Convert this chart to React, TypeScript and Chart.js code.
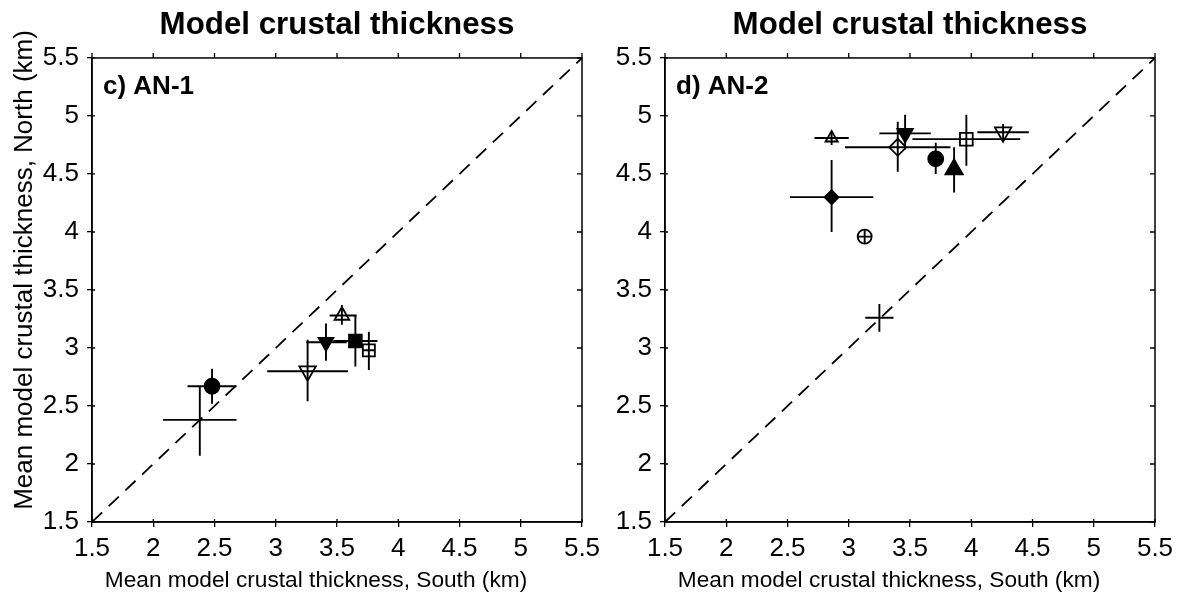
import React, { useEffect, useRef } from 'react';
import { Chart, registerables } from 'chart.js';

Chart.register(...registerables);

const FONT = "'Liberation Sans', Arial, Helvetica, sans-serif";

const tickValues = [1.5, 2, 2.5, 3, 3.5, 4, 4.5, 5, 5.5];
const tickLabels = ['1.5', '2', '2.5', '3', '3.5', '4', '4.5', '5', '5.5'];
const diagonal = [1.5, 5.5];

const chartTitle = 'Model crustal thickness';
const xTitle = 'Mean model crustal thickness, South (km)';
const yTitle = 'Mean model crustal thickness, North (km)';

// Panel c) AN-1
const an1South = [2.38, 2.48, 3.26, 3.41, 3.54, 3.65, 3.76];
const an1North = [2.38, 2.67, 2.8, 3.05, 3.28, 3.06, 2.98];
const an1SouthLo = [2.08, 2.28, 2.93, 3.25, 3.44, 3.47, 3.71];
const an1SouthHi = [2.68, 2.68, 3.59, 3.58, 3.66, 3.83, 3.81];
const an1NorthLo = [2.07, 2.52, 2.54, 2.89, 3.2, 2.84, 2.81];
const an1NorthHi = [2.67, 2.82, 3.07, 3.21, 3.37, 3.28, 3.14];
const an1Marker = ['circle', 'circle', 'triangle', 'triangle', 'triangle', 'rect', 'rect'];
const an1Rotation = [0, 0, 180, 180, 0, 0, 0];
const an1Filled = [false, true, false, true, false, true, false];
const an1Size = [0, 7.5, 9.5, 8.5, 8.5, 9, 8.5];

// Panel d) AN-2
const an2South = [2.86, 2.86, 3.13, 3.25, 3.4, 3.46, 3.71, 3.86, 3.96, 4.26];
const an2North = [4.81, 4.3, 3.96, 3.26, 4.73, 4.85, 4.63, 4.54, 4.8, 4.86];
const an2SouthLo = [2.72, 2.52, 3.075, 3.135, 2.97, 3.25, 3.66, 3.82, 3.52, 4.05];
const an2SouthHi = [3.0, 3.2, 3.185, 3.365, 3.83, 3.67, 3.76, 3.9, 4.4, 4.47];
const an2NorthLo = [4.75, 4.0, 3.905, 3.14, 4.52, 4.71, 4.5, 4.34, 4.57, 4.79];
const an2NorthHi = [4.87, 4.62, 4.015, 3.38, 4.95, 5.01, 4.77, 4.73, 5.01, 4.93];
const an2Marker = ['triangle', 'rectRot', 'circle', 'circle', 'rectRot', 'triangle', 'circle', 'triangle', 'rect', 'triangle'];
const an2Rotation = [0, 0, 0, 0, 0, 180, 0, 0, 0, 180];
const an2Filled = [false, true, false, false, false, true, true, true, false, false];
const an2Size = [7, 7, 7, 0, 8.5, 9, 7.5, 10, 9, 9.5];

const errorBarPlugin = {
  id: 'errorBars',
  afterDatasetsDraw(chart: any) {
    const { ctx } = chart;
    const xs = chart.scales.x;
    const ys = chart.scales.y;
    const ds = chart.data.datasets[0];
    ctx.save();
    ctx.strokeStyle = '#000';
    ctx.lineWidth = 1.9;
    ctx.lineCap = 'butt';
    ds.data.forEach((p: any) => {
      const px = xs.getPixelForValue(p.x);
      const py = ys.getPixelForValue(p.y);
      ctx.beginPath();
      ctx.moveTo(xs.getPixelForValue(p.xLo), py);
      ctx.lineTo(xs.getPixelForValue(p.xHi), py);
      ctx.moveTo(px, ys.getPixelForValue(p.yLo));
      ctx.lineTo(px, ys.getPixelForValue(p.yHi));
      ctx.stroke();
    });
    ctx.restore();
  },
};

const framePlugin = {
  id: 'panelFrame',
  afterDraw(chart: any, _args: any, opts: any) {
    const { ctx, chartArea } = chart;
    const { left, right, top, bottom } = chartArea;
    const xs = chart.scales.x;
    const ys = chart.scales.y;
    ctx.save();
    ctx.strokeStyle = '#000';
    ctx.lineWidth = 1.5;
    ctx.strokeRect(left, top, right - left, bottom - top);
    ctx.lineWidth = 1.3;
    ctx.beginPath();
    tickValues.forEach((v) => {
      const px = xs.getPixelForValue(v);
      ctx.moveTo(px, top);
      ctx.lineTo(px, top - 5);
      ctx.moveTo(px, bottom);
      ctx.lineTo(px, bottom - 3);
      const py = ys.getPixelForValue(v);
      ctx.moveTo(right, py);
      ctx.lineTo(right - 5, py);
      ctx.moveTo(left, py);
      ctx.lineTo(left + 3, py);
    });
    ctx.stroke();
    ctx.fillStyle = '#000';
    // panel label
    ctx.font = `bold 26px ${FONT}`;
    ctx.textBaseline = 'alphabetic';
    ctx.textAlign = 'left';
    ctx.fillText(opts.label, left + 11, top + 36);
    // x axis title
    ctx.font = `22.7px ${FONT}`;
    ctx.textAlign = 'center';
    ctx.fillText(opts.xText, (left + right) / 2 - 21, 587);
    // y axis title
    if (opts.yText) {
      ctx.save();
      ctx.translate(32, 270);
      ctx.rotate(-Math.PI / 2);
      ctx.font = `26px ${FONT}`;
      ctx.textAlign = 'center';
      ctx.fillText(opts.yText, 0, 0);
      ctx.restore();
    }
    ctx.restore();
  },
};

type PanelProps = {
  label: string;
  south: number[];
  north: number[];
  southLo: number[];
  southHi: number[];
  northLo: number[];
  northHi: number[];
  marker: string[];
  rotation: number[];
  filled: boolean[];
  size: number[];
  yText: string;
  yAxisWidth: number;
  padRight: number;
  width: number;
  left: number;
};

function Panel(props: PanelProps) {
  const ref = useRef<HTMLCanvasElement>(null);
  useEffect(() => {
    const pts = props.south.map((x, i) => ({
      x,
      y: props.north[i],
      xLo: props.southLo[i],
      xHi: props.southHi[i],
      yLo: props.northLo[i],
      yHi: props.northHi[i],
    }));
    const tickFont = { size: 26, family: FONT };
    const chart = new Chart(ref.current as HTMLCanvasElement, {
      type: 'scatter',
      data: {
        datasets: [
          {
            data: pts,
            pointStyle: props.marker as any,
            pointRotation: props.rotation,
            pointRadius: props.size,
            pointBackgroundColor: props.filled.map((f) => (f ? '#000' : '#fff')),
            pointBorderColor: '#000',
            pointBorderWidth: 1.8,
          } as any,
          {
            type: 'line',
            data: diagonal.map((v) => ({ x: v, y: v })),
            borderColor: '#000',
            borderWidth: 1.8,
            borderDash: [14, 9],
            pointRadius: 0,
            fill: false,
            showLine: true,
          } as any,
        ],
      },
      options: {
        animation: false,
        responsive: false,
        events: [],
        layout: { padding: { left: 0, right: props.padRight, top: 0, bottom: 0 } },
        plugins: {
          legend: { display: false },
          tooltip: { enabled: false },
          title: {
            display: true,
            text: chartTitle,
            fullSize: false,
            color: '#000',
            font: { size: 31.3, weight: 'bold', family: FONT },
            padding: { top: 7, bottom: 13.4 },
          },
          panelFrame: { label: props.label, xText: xTitle, yText: props.yText },
        } as any,
        scales: {
          x: {
            type: 'linear',
            min: 1.5,
            max: 5.5,
            afterBuildTicks: (s: any) => {
              s.ticks = tickValues.map((v) => ({ value: v }));
            },
            afterFit: (s: any) => {
              s.height = 79;
            },
            ticks: {
              autoSkip: false,
              maxRotation: 0,
              color: '#000',
              font: tickFont,
              padding: 6,
              callback: (_v: any, i: number) => tickLabels[i],
            },
            grid: { display: true, drawOnChartArea: false, drawTicks: true, tickLength: 5, color: '#000', lineWidth: 1.3 },
            border: { display: true, color: '#000', width: 1.5 },
            title: { display: false },
          },
          y: {
            type: 'linear',
            min: 1.5,
            max: 5.5,
            afterBuildTicks: (s: any) => {
              s.ticks = tickValues.map((v) => ({ value: v }));
            },
            afterFit: (s: any) => {
              s.width = props.yAxisWidth;
            },
            ticks: {
              autoSkip: false,
              color: '#000',
              font: tickFont,
              padding: 8,
              callback: (_v: any, i: number) => tickLabels[i],
            },
            grid: { display: true, drawOnChartArea: false, drawTicks: true, tickLength: 5, color: '#000', lineWidth: 1.3 },
            border: { display: true, color: '#000', width: 1.5 },
            title: { display: false },
          },
        } as any,
      },
      plugins: [errorBarPlugin, framePlugin],
    });
    return () => chart.destroy();
  }, []);
  return (
    <canvas
      ref={ref}
      width={props.width}
      height={601}
      style={{ position: 'absolute', left: props.left, top: 0, width: props.width, height: 601 }}
    />
  );
}

export default function App() {
  return (
    <div style={{ position: 'fixed', left: 0, top: 0, width: 1181, height: 601, background: '#fff', overflow: 'hidden' }}>
      <Panel
        label="c) AN-1"
        south={an1South}
        north={an1North}
        southLo={an1SouthLo}
        southHi={an1SouthHi}
        northLo={an1NorthLo}
        northHi={an1NorthHi}
        marker={an1Marker}
        rotation={an1Rotation}
        filled={an1Filled}
        size={an1Size}
        yText={yTitle}
        yAxisWidth={92}
        padRight={43}
        width={625}
        left={0}
      />
      <Panel
        label="d) AN-2"
        south={an2South}
        north={an2North}
        southLo={an2SouthLo}
        southHi={an2SouthHi}
        northLo={an2NorthLo}
        northHi={an2NorthHi}
        marker={an2Marker}
        rotation={an2Rotation}
        filled={an2Filled}
        size={an2Size}
        yText=""
        yAxisWidth={65}
        padRight={26}
        width={581}
        left={600}
      />
    </div>
  );
}
